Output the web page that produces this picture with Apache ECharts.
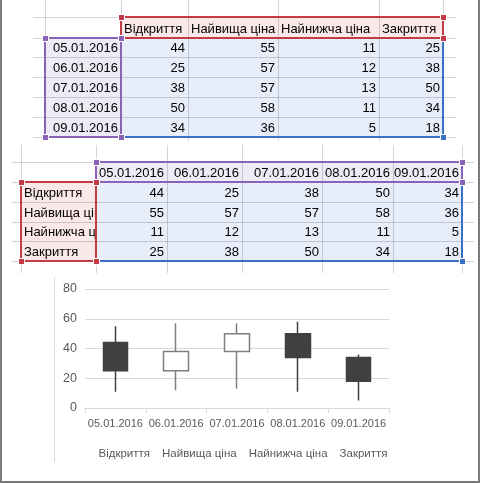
<!DOCTYPE html>
<html>
<head>
<meta charset="UTF-8">
<title>Біржова діаграма</title>
<script src="https://cdn.jsdelivr.net/npm/echarts@6/dist/echarts.min.js"></script>
<style>
    html, body { margin:0; padding:0; background:#fff; }
    #page { position:relative; width:480px; height:483px; overflow:hidden; font-family:'Liberation Sans', Arial, sans-serif; }
    #main { position:absolute; left:0; top:0; width:480px; height:483px; }
    .gl { position:absolute; background:rgba(0,0,0,0.17); }
    .cell { position:absolute; box-sizing:border-box; display:flex; align-items:flex-end; padding:0 3px 2px 3px;
            white-space:nowrap; overflow:hidden; color:#000; font-size:13px; line-height:15px; }
    .cell.txt { font-size:13px; padding-left:2px; }
    .cell.r { justify-content:flex-end; }
    .box { position:absolute; box-sizing:border-box; border:2px solid; }
    .hd { position:absolute; width:7px; height:7px; box-sizing:border-box; border:1px solid #fff; }
    #frame { position:absolute; left:0; top:0; width:480px; height:483px; box-sizing:border-box;
             border-left:2px solid #7a7a7a; border-right:2px solid #7a7a7a; border-bottom:2px solid #7a7a7a; }
    #chartEdge { position:absolute; left:54px; top:277px; width:1px; height:185px; background:#d9d9d9; }
</style>
</head>
<body>
<div id="page">
    <div id="main"></div>
    <div id="sheets"></div>
    <div id="chartEdge"></div>
    <div id="frame"></div>
</div>
<script type="text/javascript">
    // дані
    var dates = ['05.01.2016', '06.01.2016', '07.01.2016', '08.01.2016', '09.01.2016'];
    var fields = ['Відкриття', 'Найвища ціна', 'Найнижча ціна', 'Закриття'];
    var openVals = [44, 25, 38, 50, 34];
    var highVals = [55, 57, 57, 58, 36];
    var lowVals = [11, 12, 13, 11, 5];
    var closeVals = [25, 38, 50, 34, 18];
    var yTicks = [0, 20, 40, 60, 80];

    var RED = '#c33b44', PURPLE = '#8a63b8', BLUE = '#3a70c6';
    var PINK_BG = '#fbe9ea', PURPLE_BG = '#efebf6', BLUE_BG = '#e7eef9';

    var sheets = document.getElementById('sheets');

    function el(cls, css, text) {
        var d = document.createElement('div');
        d.className = cls;
        for (var k in css) d.style[k] = css[k];
        if (text !== undefined) d.textContent = text;
        sheets.appendChild(d);
        return d;
    }

    // sh: cols/rows = межі клітинок, span = докуди тягнуться лінії сітки
    function drawSheet(sh) {
        // заливка
        sh.fills.forEach(function (f) {
            el('', {position:'absolute', left:sh.cols[f[0]] + 'px', top:sh.rows[f[1]] + 'px',
                width:(sh.cols[f[2]] - sh.cols[f[0]]) + 'px', height:(sh.rows[f[3]] - sh.rows[f[1]]) + 'px', background:f[4]});
        });
        // сітка
        sh.rows.forEach(function (y) {
            el('gl', {left:sh.xSpan[0] + 'px', top:y + 'px', width:(sh.xSpan[1] - sh.xSpan[0]) + 'px', height:'1px'});
        });
        sh.cols.forEach(function (x) {
            el('gl', {left:x + 'px', top:sh.ySpan[0] + 'px', width:'1px', height:(sh.ySpan[1] - sh.ySpan[0]) + 'px'});
        });
        // текст
        sh.cells.forEach(function (c) {
            el('cell' + (c.right ? ' r' : '') + (c.txt ? ' txt' : ''), {
                left:(sh.cols[c.c] + 1) + 'px', top:(sh.rows[c.r] + 1) + 'px',
                width:(sh.cols[c.c + 1] - sh.cols[c.c] - 1) + 'px', height:(sh.rows[c.r + 1] - sh.rows[c.r] - 1) + 'px'
            }, c.t);
        });
        // рамки виділення
        sh.boxes.forEach(function (b) {
            var x0 = sh.cols[b[0]], y0 = sh.rows[b[1]], x1 = sh.cols[b[2]], y1 = sh.rows[b[3]];
            el('box', {left:(x0 - 1) + 'px', top:(y0 - 1) + 'px', width:(x1 - x0 + 2) + 'px', height:(y1 - y0 + 2) + 'px', borderColor:b[4]});
            b[5].forEach(function (h) {
                var hx = h.indexOf('L') >= 0 ? x0 : x1;
                var hy = h.indexOf('T') >= 0 ? y0 : y1;
                el('hd', {left:(hx - 3) + 'px', top:(hy - 3) + 'px', background:b[4]});
            });
        });
    }

    // таблиця 1: дати в рядках
    var cells1 = [];
    fields.forEach(function (f, i) { cells1.push({r:0, c:i + 1, t:f, txt:true}); });
    dates.forEach(function (d, j) {
        cells1.push({r:j + 1, c:0, t:d, right:true});
        [openVals, highVals, lowVals, closeVals].forEach(function (arr, i) {
            cells1.push({r:j + 1, c:i + 1, t:String(arr[j]), right:true});
        });
    });
    drawSheet({
        cols:[45, 121, 188, 278, 379, 443],
        rows:[17, 38, 57, 77, 97, 117, 137],
        xSpan:[33, 456], ySpan:[0, 141],
        fills:[[1, 0, 5, 1, PINK_BG], [0, 1, 1, 6, PURPLE_BG], [1, 1, 5, 6, BLUE_BG]],
        cells:cells1,
        boxes:[[1, 1, 5, 6, BLUE, ['BR']], [1, 0, 5, 1, RED, ['TL', 'TR', 'BR']], [0, 1, 1, 6, PURPLE, ['TL', 'TR', 'BL', 'BR']]]
    });

    // таблиця 2: дати в стовпцях
    var cells2 = [];
    dates.forEach(function (d, j) { cells2.push({r:0, c:j + 1, t:d, right:true}); });
    [openVals, highVals, lowVals, closeVals].forEach(function (arr, i) {
        cells2.push({r:i + 1, c:0, t:fields[i], txt:true});
        arr.forEach(function (v, j) { cells2.push({r:i + 1, c:j + 1, t:String(v), right:true}); });
    });
    drawSheet({
        cols:[21, 96, 167, 242, 322, 393, 462],
        rows:[162, 182, 202, 222, 241, 261],
        xSpan:[12, 474], ySpan:[145, 273],
        fills:[[1, 0, 6, 1, PURPLE_BG], [0, 1, 1, 5, PINK_BG], [1, 1, 6, 5, BLUE_BG]],
        cells:cells2,
        boxes:[[1, 1, 6, 5, BLUE, ['BR']], [1, 0, 6, 1, PURPLE, ['TL', 'TR', 'BR']], [0, 1, 1, 5, RED, ['TL', 'TR', 'BL', 'BR']]]
    });

    // біржова діаграма
    var candles = dates.map(function (d, i) {
        return [openVals[i], closeVals[i], lowVals[i], highVals[i]];
    });
    var series = [{
        name:'Ціни',
        type:'candlestick',
        data:candles,
        barWidth:25,
        itemStyle:{
            color:'#ffffff',
            color0:'#404040',
            borderColor:'#7f7f7f',
            borderColor0:'#404040',
            borderWidth:1.5
        }
    }];
    fields.forEach(function (f) {
        series.push({name:f, type:'line', data:[]});
    });

    var option = {
        animation:false,
        textStyle:{fontFamily:'Liberation Sans'},
        grid:{left:85, right:91, top:289, bottom:75},
        legend:{
            data:fields,
            left:'center',
            top:443,
            itemWidth:0,
            itemHeight:0,
            itemGap:6,
            itemStyle:{opacity:0},
            lineStyle:{opacity:0},
            selectedMode:false,
            textStyle:{color:'#595959', fontSize:11.5, fontFamily:'Liberation Sans'}
        },
        xAxis:{
            type:'category',
            data:dates,
            boundaryGap:true,
            axisLine:{lineStyle:{color:'#d9d9d9'}},
            axisTick:{show:true, length:5, lineStyle:{color:'#d9d9d9'}},
            axisLabel:{color:'#595959', fontSize:11, margin:10, interval:0}
        },
        yAxis:{
            type:'value',
            min:yTicks[0],
            max:yTicks[yTicks.length - 1],
            interval:yTicks[1] - yTicks[0],
            axisLine:{show:false},
            axisTick:{show:false},
            axisLabel:{color:'#595959', fontSize:12.5, margin:8},
            splitLine:{lineStyle:{color:'#d9d9d9'}}
        },
        series:series
    };
    echarts.init(document.getElementById('main')).setOption(option);
</script>
</body>
</html>
